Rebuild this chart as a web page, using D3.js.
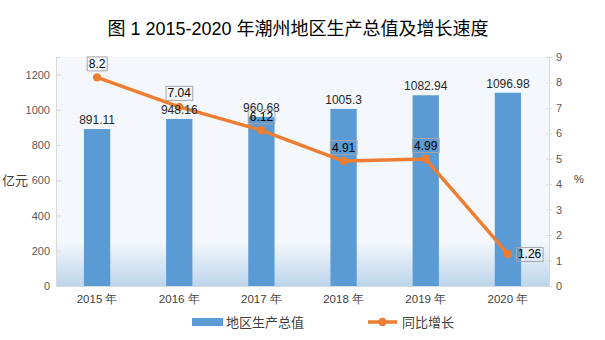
<!DOCTYPE html>
<html><head><meta charset="utf-8">
<script src="https://cdn.jsdelivr.net/npm/d3@7"></script>
<style>
body{margin:0;background:#fff;}
svg{display:block;font-family:"Liberation Sans","Noto Sans CJK SC",sans-serif;}
</style></head>
<body><svg id="c" width="605" height="340"></svg>
<script>
const years = ["2015 年","2016 年","2017 年","2018 年","2019 年","2020 年"];
const gdp = [891.11, 948.16, 960.68, 1005.3, 1082.94, 1096.98];
const growth = [8.2, 7.04, 6.12, 4.91, 4.99, 1.26];
const leftTicks = [0,200,400,600,800,1000,1200];
const rightTicks = [0,1,2,3,4,5,6,7,8,9];
const title = "图 1 2015-2020 年潮州地区生产总值及增长速度";
const seriesNames = ["地区生产总值","同比增长"];
const leftUnit = "亿元", rightUnit = "%";

const svg = d3.select("#c");
const L=56, R=549, T=57, B=286;
const barColor="#5b9bd5", lineColor="#ed7d31", tickColor="#595959";

const x = d3.scaleBand().domain(years).range([L,R]).padding(0);
const yL = d3.scaleLinear().domain([0,1300]).range([B,T]);
const yR = d3.scaleLinear().domain([0,9]).range([B,T]);
const cx = d => x(d)+x.bandwidth()/2;
const bw = x.bandwidth()*0.32;

// defs
const defs = svg.append("defs");
const pat = defs.append("pattern").attr("id","dots").attr("width",4).attr("height",4).attr("patternUnits","userSpaceOnUse");
pat.append("rect").attr("width",4).attr("height",4).attr("fill","#f4f8fc");
pat.append("rect").attr("x",1).attr("y",1).attr("width",1).attr("height",1).attr("fill","#e9f1f9");
const grad = defs.append("linearGradient").attr("id","g").attr("x1",0).attr("y1",0).attr("x2",0).attr("y2",1);
grad.append("stop").attr("offset",0).attr("stop-color","#bcd5ec").attr("stop-opacity",0);
grad.append("stop").attr("offset",1).attr("stop-color","#bcd5ec").attr("stop-opacity",1);

// background
svg.append("rect").attr("x",L).attr("y",T).attr("width",R-L).attr("height",B-T).attr("fill","url(#dots)");
svg.append("rect").attr("x",L).attr("y",yL(250)).attr("width",R-L).attr("height",B-yL(250)).attr("fill","url(#g)");

// title
svg.append("text").attr("x",298).attr("y",35).attr("text-anchor","middle")
  .attr("font-size",18).attr("fill","#000").text(title);

// axes
const axL = svg.append("g").attr("transform",`translate(${L},0)`)
  .call(d3.axisLeft(yL).tickValues(leftTicks).tickSize(-5).tickPadding(6).tickFormat(d3.format("d")));
const axR = svg.append("g").attr("transform",`translate(${R},0)`)
  .call(d3.axisRight(yR).tickValues(rightTicks).tickSize(3).tickPadding(4).tickFormat(d3.format("d")));
[axL,axR].forEach(a=>{
  a.select(".domain").attr("stroke","#d9d9d9");
  a.selectAll(".tick line").attr("stroke","#d9d9d9");
  a.selectAll(".tick text").attr("fill",tickColor).attr("font-size",11);
});
axR.selectAll(".tick line").attr("x1",-3);
const axB = svg.append("g").attr("transform",`translate(0,${B})`)
  .call(d3.axisBottom(x).tickSize(0).tickPadding(9));
axB.select(".domain").attr("stroke","#d9d9d9");
axB.selectAll(".tick text").attr("fill","#404040").attr("font-size",11.5);

// units
svg.append("text").attr("x",2).attr("y",185).attr("font-size",13).attr("fill","#404040").text(leftUnit);
svg.append("text").attr("x",574).attr("y",183).attr("font-size",11).attr("fill","#404040").text(rightUnit);

// bars
svg.append("g").selectAll("rect").data(gdp).join("rect")
  .attr("x",(d,i)=>cx(years[i])-bw/2).attr("y",d=>yL(d))
  .attr("width",bw).attr("height",d=>B-yL(d)).attr("fill",barColor);

// line
const pts = growth.map((v,i)=>[cx(years[i]), yR(v)]);
svg.append("path").attr("d",d3.line()(pts)).attr("fill","none")
  .attr("stroke",lineColor).attr("stroke-width",3.5).attr("stroke-linejoin","round");
svg.append("g").selectAll("circle").data(pts).join("circle")
  .attr("cx",d=>d[0]).attr("cy",d=>d[1]).attr("r",4.2).attr("fill",lineColor);

// bar labels
svg.append("g").selectAll("text").data(gdp).join("text")
  .attr("x",(d,i)=>cx(years[i])).attr("y",d=>yL(d)-5)
  .attr("text-anchor","middle").attr("font-size",12).attr("fill","#262626")
  .text(d=>d3.format("")(d));

// line labels (boxes)
const lg = svg.append("g");
growth.forEach((v,i)=>{
  const last = i===growth.length-1;
  const px = cx(years[i]), py = yR(v);
  const g = lg.append("g");
  const t = g.append("text").attr("font-size",12).attr("fill","#000")
    .attr("text-anchor", last ? "start":"middle")
    .attr("x", last ? px+10 : px)
    .attr("y", last ? py+4.5 : py-9.5)
    .text(String(v));
  const bb = t.node().getBBox();
  g.insert("rect","text").attr("x",bb.x-1.5).attr("y",bb.y).attr("width",bb.width+3).attr("height",bb.height)
    .attr("fill","none").attr("stroke","#a6a6a6").attr("stroke-width",1);
});

// legend
const leg = svg.append("g");
leg.append("rect").attr("x",192).attr("y",318).attr("width",31).attr("height",8).attr("fill",barColor);
leg.append("text").attr("x",226).attr("y",327).attr("font-size",13).attr("fill","#404040").text(seriesNames[0]);
leg.append("line").attr("x1",368).attr("x2",397).attr("y1",322).attr("y2",322).attr("stroke",lineColor).attr("stroke-width",3.5);
leg.append("circle").attr("cx",382.5).attr("cy",322).attr("r",4.2).attr("fill",lineColor);
leg.append("text").attr("x",402).attr("y",327).attr("font-size",13).attr("fill","#404040").text(seriesNames[1]);
</script></body></html>
